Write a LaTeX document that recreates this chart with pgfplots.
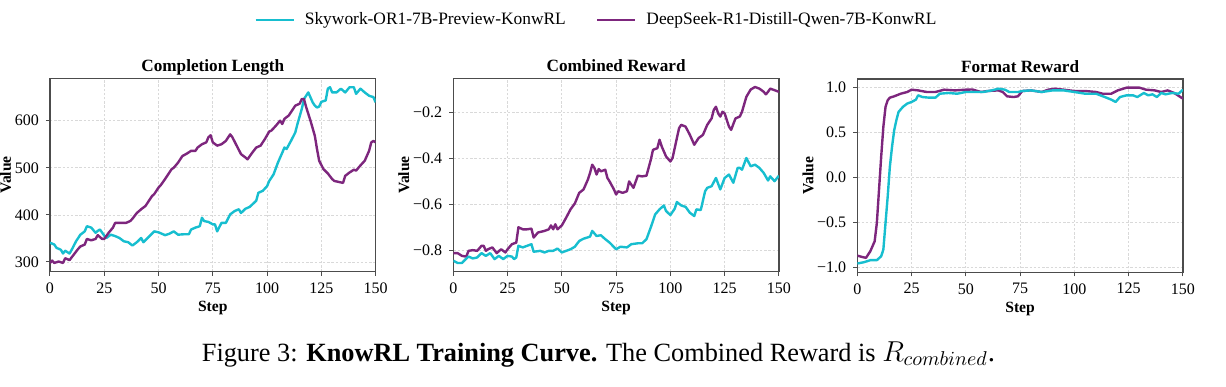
\documentclass[border=0pt]{standalone}
\usepackage{pgfplots}
\pgfplotsset{compat=1.18}
\usepackage{fontspec}
\setmainfont{Liberation Serif}
\definecolor{cyanc}{RGB}{23,190,207}
\definecolor{purp}{RGB}{125,38,125}
\pgfplotsset{
  panel/.style={
    scale only axis, width=162.8pt, height=96.7pt,
    xmin=0, xmax=150, xtick={0,25,50,75,100,125,150},
    axis line style={draw=black!70, line width=0.7pt},
    grid=major, major grid style={dash pattern=on 1.2pt off 0.9pt, gray!30, line width=0.35pt},
    tick align=outside, tick pos=left, major tick length=2pt,
    tick style={black!70, line width=0.5pt},
    /pgf/number format/assume math mode=true,
    ticklabel style={font=\fontsize{8}{8}\selectfont},
    xlabel={\textbf{Step}}, ylabel={\textbf{Value}},
    label style={font=\fontsize{7.8}{8}\selectfont},
    ylabel shift=-5pt,
    title style={font=\fontsize{8.6}{9}\selectfont\bfseries, text depth=0pt, yshift=-6.3pt},
    xlabel style={yshift=3pt},
    every axis plot/.append style={line width=1.2pt, line join=round},
  }
}
\begin{document}
\begin{tikzpicture}[x=0.5pt,y=0.5pt]
\path[use as bounding box] (0,0) rectangle (1226,386);
% Panel 1
\begin{axis}[panel, at={(25pt,57.15pt)}, anchor=south west,
  title={Completion Length}, ymin=279.4, ymax=690,
  ytick={300,400,500,600},
  legend columns=2,
  legend style={at={(1.681,1.301)}, anchor=center, draw=none, fill=none,
    font=\fontsize{8.7}{9}\selectfont,
    /tikz/every even column/.append style={column sep=13pt}},
  legend image code/.code={\draw[#1, line width=1.4pt] (0pt,0pt) -- (19pt,0pt); \path (22pt,0pt);},
  ]
\addplot[cyanc] coordinates {(0,341)(2,337)(3,330)(5,326)(6,318)(7,324)(9,318)(10,326)(12,344)(14,358)(16,365)(17,376)(19,373)(21,362)(22,366)(23,369)(25,356)(26,351)(28,358)(30,355)(32,351)(34,344)(36,342)(38,335)(40,342)(42,351)(43,342)(45,351)(48,365)(50,363)(53,357)(55,360)(57,365)(59,358)(62,359)(64,359)(65,369)(67,373)(69,376)(70,394)(71,387)(73,385)(75,380)(76,380)(77,365)(79,383)(81,383)(83,401)(85,408)(87,412)(88,404)(90,413)(92,417)(95,430)(96,447)(98,451)(100,461)(101,472)(103,486)(105,511)(107,532)(108,543)(109,540)(111,557)(113,575)(114,593)(116,625)(117,646)(119,660)(121,639)(122,632)(123,628)(124,630)(125,640)(127,643)(128,668)(129,671)(130,660)(132,660)(134,668)(136,660)(138,671)(140,671)(141,657)(143,668)(145,660)(147,653)(149,650)(150,639)};
\addlegendentry{Skywork-OR1-7B-Preview-KonwRL}
\addplot[purp] coordinates {(0,298)(1,303)(2,298)(4,301)(6,298)(7,308)(9,304)(11,316)(13,328)(14,333)(16,337)(17,349)(19,346)(21,349)(22,357)(24,349)(25,349)(27,362)(29,373)(30,383)(32,383)(35,383)(37,387)(38,392)(40,404)(42,412)(44,419)(45,426)(47,440)(48,444)(50,458)(51,463)(53,476)(54,483)(56,497)(57,500)(59,511)(61,525)(63,530)(65,536)(67,536)(68,543)(70,550)(72,554)(73,565)(74,569)(75,554)(77,547)(79,550)(81,557)(83,571)(84,565)(86,547)(88,529)(90,522)(91,518)(93,531)(95,543)(97,547)(99,561)(101,577)(102,579)(104,589)(106,600)(107,593)(108,604)(110,611)(112,625)(113,632)(115,636)(116,646)(117,646)(118,629)(120,600)(122,568)(123,540)(124,515)(126,497)(128,488)(130,476)(131,472)(133,470)(135,468)(136,483)(138,490)(140,496)(141,494)(143,505)(145,515)(147,536)(148,554)(149,557)(150,554)};
\addlegendentry{DeepSeek-R1-Distill-Qwen-7B-KonwRL}
\end{axis}
% Panel 2
\begin{axis}[panel, at={(226.65pt,57.15pt)}, anchor=south west,
  title={Combined Reward}, ymin=-0.894, ymax=-0.050,
  ytick={-0.8,-0.6,-0.4,-0.2}, yticklabels={−0.8,−0.6,−0.4,−0.2}]
\addplot[purp] coordinates {(0,-0.813)(2,-0.813)(4,-0.825)(6,-0.828)(7,-0.803)(9,-0.800)(11,-0.803)(13,-0.781)(14,-0.781)(15,-0.803)(16,-0.796)(18,-0.788)(20,-0.813)(22,-0.796)(24,-0.810)(25,-0.796)(27,-0.774)(29,-0.767)(30,-0.700)(32,-0.709)(34,-0.709)(36,-0.706)(37,-0.745)(39,-0.723)(42,-0.716)(44,-0.709)(45,-0.692)(46,-0.709)(47,-0.687)(48,-0.709)(50,-0.692)(52,-0.658)(54,-0.622)(56,-0.596)(58,-0.550)(60,-0.535)(62,-0.492)(63,-0.463)(64,-0.427)(65,-0.441)(66,-0.470)(67,-0.446)(68,-0.456)(70,-0.449)(71,-0.485)(72,-0.500)(74,-0.535)(75,-0.557)(76,-0.543)(78,-0.550)(80,-0.543)(81,-0.500)(83,-0.528)(85,-0.475)(87,-0.478)(89,-0.475)(91,-0.405)(92,-0.362)(94,-0.355)(95,-0.318)(96,-0.347)(98,-0.391)(100,-0.413)(101,-0.398)(103,-0.311)(104,-0.268)(105,-0.253)(107,-0.261)(109,-0.297)(111,-0.340)(113,-0.311)(115,-0.297)(117,-0.253)(119,-0.225)(120,-0.188)(121,-0.174)(122,-0.203)(123,-0.217)(124,-0.196)(125,-0.203)(127,-0.261)(128,-0.275)(130,-0.225)(132,-0.217)(133,-0.196)(135,-0.131)(137,-0.099)(139,-0.088)(141,-0.095)(143,-0.109)(144,-0.120)(145,-0.109)(146,-0.095)(148,-0.102)(150,-0.109)};
\addplot[cyanc] coordinates {(0,-0.846)(2,-0.856)(4,-0.856)(5,-0.846)(7,-0.828)(9,-0.836)(11,-0.832)(13,-0.813)(15,-0.825)(17,-0.813)(19,-0.839)(21,-0.825)(23,-0.839)(25,-0.825)(27,-0.828)(28,-0.839)(29,-0.832)(30,-0.781)(32,-0.788)(34,-0.781)(36,-0.774)(37,-0.807)(40,-0.803)(42,-0.810)(44,-0.803)(46,-0.803)(48,-0.793)(50,-0.810)(52,-0.803)(54,-0.796)(56,-0.785)(58,-0.760)(60,-0.750)(63,-0.741)(64,-0.716)(66,-0.738)(68,-0.735)(70,-0.752)(72,-0.767)(75,-0.796)(77,-0.785)(80,-0.788)(82,-0.774)(85,-0.770)(87,-0.770)(89,-0.752)(91,-0.700)(93,-0.644)(95,-0.622)(97,-0.605)(98,-0.629)(100,-0.647)(102,-0.619)(103,-0.590)(105,-0.605)(107,-0.611)(109,-0.637)(111,-0.651)(112,-0.622)(114,-0.625)(116,-0.543)(117,-0.528)(119,-0.521)(121,-0.485)(123,-0.535)(125,-0.485)(127,-0.470)(129,-0.506)(131,-0.441)(132,-0.441)(133,-0.449)(135,-0.398)(137,-0.434)(139,-0.427)(141,-0.441)(143,-0.463)(145,-0.496)(146,-0.478)(148,-0.499)(150,-0.475)};
\end{axis}
% Panel 3
\begin{axis}[panel, at={(428.65pt,56.85pt)}, anchor=south west,
  title={Format Reward}, ymin=-1.057, ymax=1.098,
  ytick={-1,-0.5,0,0.5,1}, yticklabels={−1.0,−0.5,0.0,0.5,1.0}]
\addplot[purp] coordinates {(0,-0.871)(2,-0.885)(4,-0.896)(6,-0.822)(8,-0.711)(9,-0.508)(10,-0.139)(11,0.231)(12,0.564)(13,0.786)(14,0.860)(15,0.889)(17,0.904)(20,0.933)(23,0.952)(25,0.978)(28,0.970)(32,0.952)(36,0.952)(40,0.978)(45,0.970)(50,0.978)(53,0.980)(57,0.952)(60,0.963)(65,0.970)(67,0.952)(69,0.904)(72,0.896)(74,0.904)(76,0.963)(80,0.970)(85,0.952)(88,0.978)(91,0.989)(95,0.978)(100,0.963)(105,0.963)(110,0.952)(113,0.933)(117,0.933)(120,0.970)(124,1.0)(130,1.0)(133,0.978)(137,0.970)(140,0.952)(143,0.970)(146,0.941)(150,0.878)};
\addplot[cyanc] coordinates {(0,-0.959)(3,-0.945)(6,-0.922)(9,-0.922)(11,-0.878)(12,-0.804)(13,-0.508)(14,-0.213)(15,0.120)(16,0.342)(17,0.527)(18,0.638)(19,0.730)(21,0.786)(23,0.823)(25,0.841)(27,0.867)(28,0.915)(30,0.896)(33,0.889)(36,0.889)(38,0.933)(42,0.941)(46,0.933)(50,0.952)(55,0.952)(58,0.952)(62,0.970)(65,0.989)(68,0.978)(70,0.952)(74,0.952)(76,0.963)(80,0.970)(85,0.952)(90,0.970)(95,0.970)(100,0.952)(105,0.933)(110,0.933)(114,0.896)(117,0.867)(119,0.841)(121,0.896)(124,0.915)(127,0.915)(129,0.896)(132,0.941)(134,0.915)(136,0.926)(138,0.896)(140,0.941)(142,0.926)(145,0.941)(148,0.933)(150,0.978)};
\end{axis}
\node[font=\fontsize{13.15}{15}\selectfont, anchor=base, inner sep=0pt] at (598.5,25) {Figure 3: \textbf{KnowRL Training Curve.} The Combined Reward is {\fontsize{14.5}{16}\selectfont$R_{combined}$.}};
\end{tikzpicture}
\end{document}
